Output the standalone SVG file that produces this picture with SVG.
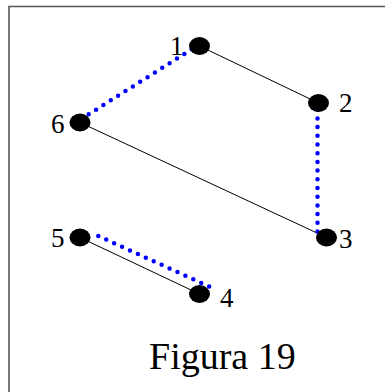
<svg xmlns="http://www.w3.org/2000/svg" width="385" height="392" viewBox="0 0 385 392">
<style>
.node{fill:#000}
.edge{stroke:#000;stroke-width:1;fill:none}
.dot{stroke:#0000ff;stroke-width:4.5;stroke-linecap:round;stroke-dasharray:0 8.7;fill:none}
.lbl{font-family:"Liberation Serif",serif;font-size:27px;fill:#000}
.cap{font-family:"Liberation Serif",serif;font-size:38px;fill:#000}
</style>
<rect width="385" height="392" fill="#fff"/>
<path d="M9,392 V6.5 H385" fill="none" stroke="#555" stroke-width="1.6"/>
<g id="connectors">
<line class="edge" x1="199.5" y1="46" x2="318.5" y2="103"/>
<line class="edge" x1="80" y1="122.5" x2="317" y2="233"/>
<line class="edge" x1="80" y1="237.5" x2="199.5" y2="294"/>
<line class="dot" x1="191.7" y1="49.3" x2="78" y2="121"/>
<line class="dot" x1="317.5" y1="101" x2="317.5" y2="232.5"/>
<line class="dot" x1="98.3" y1="236" x2="213.5" y2="288.5"/>
</g>
<g id="n1"><ellipse class="node" cx="199.5" cy="46" rx="10.5" ry="9"/><text class="lbl" x="170" y="55">1</text></g>
<g id="n2"><ellipse class="node" cx="318.5" cy="103" rx="10.5" ry="9"/><text class="lbl" x="339" y="112">2</text></g>
<g id="n3"><ellipse class="node" cx="326.5" cy="237.5" rx="10.5" ry="9"/><text class="lbl" x="339" y="248">3</text></g>
<g id="n4"><ellipse class="node" cx="199.5" cy="294" rx="10.5" ry="9"/><text class="lbl" x="220" y="307">4</text></g>
<g id="n5"><ellipse class="node" cx="80" cy="237.5" rx="10.5" ry="9"/><text class="lbl" x="51" y="247">5</text></g>
<g id="n6"><ellipse class="node" cx="80" cy="122.5" rx="10.5" ry="9"/><text class="lbl" x="51" y="133">6</text></g>
<text class="cap" x="149" y="369">Figura 19</text>
</svg>
